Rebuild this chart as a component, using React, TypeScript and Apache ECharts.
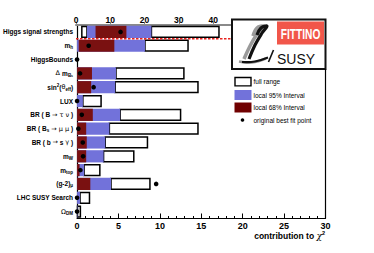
import React, { useEffect, useRef } from 'react';
import * as echarts from 'echarts';

const categories = ['Higgs signal strengths', 'm_h', 'HiggsBounds', 'Δ m_Bs', 'sin²(θ_eff)', 'LUX', 'BR(B→τν)', 'BR(Bs→μμ)', 'BR(b→sγ)', 'm_W', 'm_top', '(g-2)_μ', 'LHC SUSY Search', 'Ω_DM'];
const richLabels = [
  '{b|Higgs signal strengths}',
  '{b|m}{sub|h}',
  '{b|HiggsBounds}',
  '{sym|Δ }{b|m}{sub|B}{subsub|s}',
  '{b|sin}{sup|2}{b|(}{sym|θ}{sub|eff}{b|)}',
  '{b|LUX}',
  '{b|BR ( B }{sym|→ τ ν}{b| )}',
  '{b|BR ( B}{sub|s}{sym| → μ μ}{b| )}',
  '{b|BR ( b }{sym|→}{b| s }{sym|γ}{b| )}',
  '{b|m}{sub|W}',
  '{b|m}{sub|top}',
  '{b|(g-2)}{sub|μ}',
  '{b|LHC SUSY Search}',
  '{sym|Ω}{sub|DM}',
];
const fullMin = [1.7, 0, 0, 0, 0, 0, 0, 0, 0, 0, 0, 0, 0, 0];
const fullMax = [41.7, 13.4, 0, 12.9, 14.6, 2.9, 12.5, 14.6, 8.5, 6.85, 2.75, 8.8, 1.5, 0.4];
const ci95Min = [3.2, 0, 0, 0, 0, 0, 0, 0, 0, 0, 0, 0, 0, 0];
const ci95Max = [22.0, 8.2, 0, 4.7, 4.6, 0.7, 5.2, 3.9, 3.4, 3.2, 0.85, 4.1, 0.36, 0.05];
const ci68Min = [5.7, 0.2, 0, 0, 0, 0, 0, 0, 0, 0, 0, 0, 0, 0];
const ci68Max = [14.7, 4.5, 0, 1.8, 1.7, 0, 1.9, 1.1, 1.17, 1.1, 0.3, 1.6, 0, 0];
const bestFit = [13.0, 1.4, 0, 0.36, 2.0, 0, 0.57, 0.16, 0.69, 0.73, 0.4, 9.55, 0, 0];
const bottomAxisMax = 30;
const bottomAxisStep = 5;
const topAxisMax = 45.5;
const topAxisStep = 10;
const legendItems = ['full range', 'local 95% Interval', 'local 68% Interval', 'original best fit point'];

const FONT = '"Liberation Sans", Arial, Helvetica, sans-serif';
const BLUE = '#7272da';
const RED = '#7a1111';

const rowData = (i: number) => [i, fullMin[i], fullMax[i], ci95Min[i], ci95Max[i], ci68Min[i], ci68Max[i], bestFit[i]];

function makeRender(withDash: boolean) {
  return (params: any, api: any) => {
    const row = api.value(0);
    const fMin = api.value(1), fMax = api.value(2);
    const aMin = api.value(3), aMax = api.value(4);
    const bMin = api.value(5), bMax = api.value(6);
    const best = api.value(7);
    const yc = api.coord([0, row])[1];
    const band = api.size([0, 1])[1];
    const h = band * 0.78;
    const x = (v: number) => api.coord([v, row])[0];
    const children: any[] = [];
    const box = (a: number, b: number) => ({
      type: 'rect',
      shape: { x: x(a), y: yc - h / 2, width: x(b) - x(a), height: h },
      style: { fill: '#fff', stroke: '#000', lineWidth: 1.5 },
    });
    if (fMax > aMax) children.push(box(aMax, fMax));
    if (aMin > fMin) children.push(box(fMin, aMin));
    if (aMax > aMin)
      children.push({ type: 'rect', shape: { x: x(aMin), y: yc - h / 2 - 0.7, width: x(aMax) - x(aMin), height: h + 1.4 }, style: { fill: BLUE } });
    if (bMax > bMin)
      children.push({ type: 'rect', shape: { x: x(bMin), y: yc - h / 2 - 0.7, width: x(bMax) - x(bMin), height: h + 1.4 }, style: { fill: RED } });
    if (withDash) {
      const yl = yc + band / 2;
      children.push({ type: 'line', shape: { x1: x(0), y1: yl, x2: x(topAxisMax), y2: yl }, style: { stroke: '#e8231f', lineWidth: 1.5, lineDash: [2.5, 1.5] } });
    }
    children.push({ type: 'circle', shape: { cx: x(best), cy: yc, r: 2.3 }, style: { fill: '#000' } });
    return { type: 'group', children };
  };
}

export default function App() {
  const ref = useRef<HTMLDivElement>(null);
  useEffect(() => {
    if (!ref.current) return;
    const chart = echarts.init(ref.current, undefined, { renderer: 'svg' });
    const gridTop = 25;
    const gridBottom = 34.5;
    const legendY = [81.7, 95, 107.5, 120];
    const option: any = {
      animation: false,
      textStyle: { fontFamily: FONT },
      grid: [
        { left: 76, right: 48.5, top: gridTop, bottom: gridBottom },
        { left: 76, width: 156, top: gridTop, bottom: gridBottom },
      ],
      xAxis: [
        {
          gridIndex: 0, type: 'value', min: 0, max: bottomAxisMax, interval: bottomAxisStep, position: 'bottom',
          axisLine: { show: true, lineStyle: { color: '#000', width: 1.2 } },
          axisTick: { show: true, inside: true, length: 5, lineStyle: { color: '#000', width: 1 } },
          minorTick: { show: true, splitNumber: 5, length: 2.5, lineStyle: { color: '#000', width: 1 } },
          splitLine: { show: false },
          axisLabel: { color: '#000', fontWeight: 'bold', fontSize: 9, margin: 3, fontFamily: FONT },
        },
        {
          gridIndex: 1, type: 'value', min: 0, max: topAxisMax, interval: topAxisStep, position: 'top',
          axisLine: { show: true, lineStyle: { color: '#8a8a8a', width: 2 } },
          axisTick: { show: true, inside: false, length: 3, lineStyle: { color: '#8a8a8a', width: 1 } },
          minorTick: { show: false },
          splitLine: { show: false },
          axisLabel: { color: '#000', fontWeight: 'bold', fontSize: 8.5, margin: 1, showMaxLabel: false, fontFamily: FONT },
        },
      ],
      yAxis: [
        {
          gridIndex: 0, type: 'category', data: categories, inverse: true,
          axisLine: { show: true, lineStyle: { color: '#000', width: 1.2 } },
          axisTick: { show: false },
          splitLine: { show: false },
          axisLabel: {
            margin: 4, color: '#000', interval: 0,
            formatter: (_v: string, idx: number) => richLabels[idx],
            rich: {
              b: { fontWeight: 'bold', fontSize: 6.5, fontFamily: FONT, color: '#000' },
              sym: { fontSize: 6.5, fontFamily: '"DejaVu Sans", sans-serif', color: '#000' },
              sub: { fontWeight: 'bold', fontSize: 4.5, fontFamily: FONT, color: '#000', padding: [4, 0, 0, 0] },
              subsub: { fontWeight: 'bold', fontSize: 3.5, fontFamily: FONT, color: '#000', padding: [6, 0, 0, 0] },
              sup: { fontWeight: 'bold', fontSize: 4.5, fontFamily: FONT, color: '#000', padding: [0, 0, 4, 0] },
            },
          },
        },
        {
          gridIndex: 1, type: 'category', data: categories, inverse: true, show: false,
        },
      ],
      series: [
        {
          type: 'custom', name: 'constraints', xAxisIndex: 0, yAxisIndex: 0,
          renderItem: makeRender(false),
          data: categories.map((_, i) => i).filter((i) => i > 0).map(rowData),
          encode: { x: [1, 2], y: 0 },
          clip: false,
        },
        {
          type: 'custom', name: 'higgs', xAxisIndex: 1, yAxisIndex: 1,
          renderItem: makeRender(true),
          data: [rowData(0)],
          encode: { x: [1, 2], y: 0 },
          clip: false,
        },
      ],
      graphic: [
        // logo frame
        { type: 'rect', shape: { x: 232, y: 19.5, width: 93.5, height: 49.5 }, style: { fill: '#fff', stroke: '#111', lineWidth: 2 }, z: 10 },
        { type: 'rect', shape: { x: 277, y: 21.5, width: 47, height: 23 }, style: { fill: '#f1564a' }, z: 11 },
        { type: 'text', x: 300.5, y: 33.5, scaleX: 0.68, style: { text: 'FITTINO', fill: '#fff', fontSize: 15, fontWeight: 'bold', fontFamily: FONT, align: 'center', verticalAlign: 'middle' }, z: 12 },
        { type: 'text', x: 296, y: 58.5, style: { text: 'SUSY', fill: '#111', fontSize: 14, fontFamily: FONT, align: 'center', verticalAlign: 'middle' }, z: 12 },
        // script L shadow
        { type: 'polyline', shape: { points: [[253, 36], [257, 28], [263, 26.5], [257, 34], [250, 46], [244, 59]], smooth: 0.4 }, style: { stroke: '#9a9a9a', lineWidth: 3.5, fill: null }, z: 11 },
        { type: 'polyline', shape: { points: [[239, 61.5], [252, 62.5], [266, 58.5]], smooth: 0.4 }, style: { stroke: '#9a9a9a', lineWidth: 2.5, fill: null }, z: 11 },
        // script L
        { type: 'polyline', shape: { points: [[257, 35], [261, 28], [267, 26], [262, 33], [255, 45], [249, 59]], smooth: 0.4 }, style: { stroke: '#111', lineWidth: 3.2, fill: null }, z: 12 },
        { type: 'polyline', shape: { points: [[242, 62], [255, 61.5], [268, 57.5]], smooth: 0.4 }, style: { stroke: '#111', lineWidth: 2.2, fill: null }, z: 12 },
        { type: 'line', shape: { x1: 268.5, y1: 62, x2: 273.5, y2: 50 }, style: { stroke: '#111', lineWidth: 1.6 }, z: 12 },
        // right frame line
        { type: 'line', shape: { x1: 325.5, y1: 69, x2: 325.5, y2: 253 - gridBottom }, style: { stroke: '#000', lineWidth: 1.2 }, z: 10 },
        // legend
        { type: 'rect', shape: { x: 235, y: legendY[0] - 4.2, width: 16, height: 8.4 }, style: { fill: '#fff', stroke: '#000', lineWidth: 1.4 } },
        { type: 'rect', shape: { x: 234.5, y: legendY[1] - 5, width: 17, height: 10 }, style: { fill: BLUE } },
        { type: 'rect', shape: { x: 234.5, y: legendY[2] - 5, width: 17, height: 10 }, style: { fill: '#700000' } },
        { type: 'circle', shape: { cx: 242.5, cy: legendY[3], r: 1.8 }, style: { fill: '#000' } },
        ...legendItems.map((t, i) => ({
          type: 'text', x: 253.5, y: legendY[i],
          style: { text: t, fill: '#000', fontSize: 6.5, fontFamily: FONT, align: 'left', verticalAlign: 'middle' },
        })),
        // axis title
        {
          type: 'text', x: 325, y: 235.5,
          style: {
            text: '{b|contribution to }{chi|χ}{sup|2}', align: 'right', verticalAlign: 'middle',
            rich: {
              b: { fontWeight: 'bold', fontSize: 8.5, fontFamily: FONT, fill: '#000' },
              chi: { fontStyle: 'italic', fontSize: 9, fontFamily: '"DejaVu Serif", serif', fill: '#000' },
              sup: { fontWeight: 'bold', fontSize: 5.5, fontFamily: FONT, fill: '#000', padding: [0, 0, 5, 0] },
            },
          },
        },
      ],
    };
    chart.setOption(option);
    return () => chart.dispose();
  }, []);
  return <div ref={ref} style={{ position: 'fixed', left: 0, top: 0, width: 374, height: 253, background: '#fff' }} />;
}
